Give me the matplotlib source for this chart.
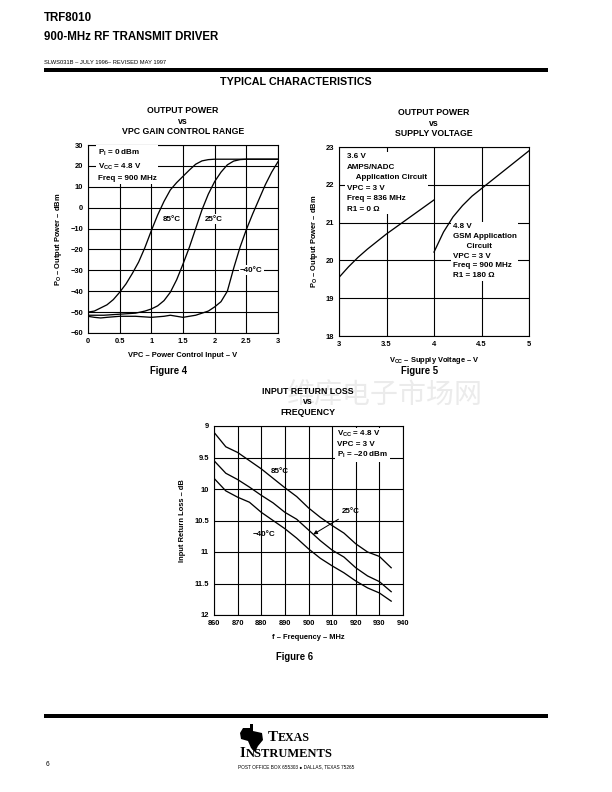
import matplotlib
matplotlib.use("Agg")
import matplotlib.pyplot as plt
from matplotlib.patches import Polygon

plt.rcParams['font.family'] = ['Liberation Sans', 'DejaVu Sans']
plt.rcParams['font.weight'] = 'bold'
plt.rcParams['axes.labelweight'] = 'bold'
plt.rcParams['mathtext.fontset'] = 'custom'
plt.rcParams['mathtext.rm'] = 'Liberation Sans:bold'
plt.rcParams['mathtext.it'] = 'Liberation Sans:bold'
plt.rcParams['mathtext.bf'] = 'Liberation Sans:bold'
plt.rcParams['axes.unicode_minus'] = True

# ---- Figure 4: output power vs VPC ----
vpc_85 = [0, 0.1, 0.2, 0.3, 0.4, 0.5, 0.6, 0.7, 0.8, 0.9, 1.0, 1.1, 1.2, 1.3,
          1.4, 1.5, 1.6, 1.7, 1.8, 1.9, 2.0, 2.5, 3.0]
po_85 = [-50, -49.5, -48, -46.5, -44, -40.5, -36.5, -31.5, -26, -19, -11, -3.5,
         3, 8.5, 12, 15, 18, 20.8, 22.4, 23, 23.2, 23.2, 23.2]
vpc_25 = [0, 0.25, 0.5, 0.75, 0.9, 1.0, 1.1, 1.2, 1.3, 1.4, 1.5, 1.6, 1.7,
          1.8, 1.9, 2.0, 2.1, 2.2, 2.3, 2.4, 2.5, 3.0]
po_25 = [-51.5, -51.5, -51, -50.5, -49.5, -48.5, -47, -44.5, -40.5, -34.5, -27,
         -19, -10, -1, 6.5, 12.5, 17, 20.5, 22.3, 23, 23.2, 23.2]
vpc_m40 = [0, 0.1, 0.2, 0.3, 0.5, 0.75, 1.0, 1.2, 1.3, 1.4, 1.5, 1.6, 1.7, 1.8,
           1.9, 2.0, 2.1, 2.2, 2.3, 2.4, 2.5, 2.6, 2.7, 2.8, 2.9, 3.0]
po_m40 = [-52, -52.5, -52.8, -52.5, -52, -52, -52.5, -52, -51.5, -52, -52.5,
          -52, -51.5, -50.5, -49.5, -47.5, -45, -40, -29, -19, -10.5, -3, 4,
          11, 17, 22]
fig4_xticks = [0, 0.5, 1, 1.5, 2, 2.5, 3]
fig4_xlabels = ['0', '0.5', '1', '1.5', '2', '2.5', '3']
fig4_yticks = [30, 20, 10, 0, -10, -20, -30, -40, -50, -60]

# ---- Figure 5: output power vs supply voltage ----
vcc_36 = [3.0, 3.1, 3.2, 3.3, 3.4, 3.5, 3.6, 3.7, 3.8, 3.9, 4.0]
po_36 = [19.55, 19.83, 20.08, 20.3, 20.5, 20.7, 20.88, 21.06, 21.24, 21.42, 21.6]
vcc_48 = [4.0, 4.1, 4.2, 4.3, 4.4, 4.5, 4.6, 4.7, 4.8, 4.9, 5.0]
po_48 = [20.22, 20.75, 21.15, 21.45, 21.7, 21.9, 22.1, 22.3, 22.5, 22.7, 22.9]
fig5_xticks = [3, 3.5, 4, 4.5, 5]
fig5_xlabels = ['3', '3.5', '4', '4.5', '5']
fig5_yticks = [18, 19, 20, 21, 22, 23]

# ---- Figure 6: input return loss vs frequency ----
freq = [860, 865, 870, 875, 880, 885, 890, 895, 900, 905, 910, 915, 920, 925,
        930, 935]
rl_85 = [9.1, 9.33, 9.42, 9.55, 9.68, 9.83, 9.98, 10.12, 10.3, 10.45, 10.58,
         10.7, 10.87, 11.0, 11.07, 11.25]
rl_25 = [9.55, 9.75, 9.85, 9.97, 10.1, 10.22, 10.37, 10.48, 10.65, 10.82,
         10.97, 11.08, 11.25, 11.38, 11.47, 11.63]
rl_m40 = [9.83, 10.03, 10.13, 10.21, 10.37, 10.5, 10.63, 10.78, 10.95, 11.1,
          11.22, 11.33, 11.46, 11.57, 11.65, 11.78]
fig6_xticks = [860, 870, 880, 890, 900, 910, 920, 930, 940]
fig6_yticks = [9, 9.5, 10, 10.5, 11, 11.5, 12]
fig6_ylabels = ['9', '9.5', '10', '10.5', '11', '11.5', '12']

W, H = 612.0, 792.0
fig = plt.figure(figsize=(W / 72, H / 72), dpi=72)


def box(x0, y0, x1, y1):
    return [x0 / W, 1 - y1 / H, (x1 - x0) / W, (y1 - y0) / H]


def ftext(x, y, s, **kw):
    fig.text(x / W, 1 - y / H, s, **kw)


def style(ax):
    ax.grid(True, color='black', linewidth=1.1)
    ax.set_axisbelow(True)
    ax.tick_params(length=0, labelsize=7.5, pad=5)
    for sp in ax.spines.values():
        sp.set_linewidth(1.1)


white = dict(facecolor='white', edgecolor='none', pad=1.5)
ann = dict(fontsize=8, fontweight='bold', linespacing=1.55)
curve = dict(color='black', lw=1.3, zorder=4)

# Figure 4
ax4 = fig.add_axes(box(88, 145, 278, 333))
ax4.plot(vpc_85, po_85, **curve)
ax4.plot(vpc_25, po_25, **curve)
ax4.plot(vpc_m40, po_m40, **curve)
ax4.set_xlim(0, 3)
ax4.set_ylim(-60, 30)
ax4.set_xticks(fig4_xticks, fig4_xlabels)
ax4.set_yticks(fig4_yticks)
style(ax4)
ax4.text(0.15, 28.5, 'P$_{\\rm I}$ = 0 dBm\nV$_{\\rm CC}$ = 4.8 V\nFreq = 900 MHz',
         va='top', ha='left', bbox=white, zorder=3, **ann)
ax4.text(1.32, -5.5, '85°C', ha='center', va='center', bbox=white, zorder=3, **ann)
ax4.text(1.99, -5.5, '25°C', ha='center', va='center', bbox=white, zorder=3, **ann)
ax4.text(2.58, -30, '−40°C', ha='center', va='center', bbox=white, zorder=3, **ann)
ax4.set_xlabel('VPC – Power Control Input – V', fontsize=7.5, labelpad=7)
ax4.set_ylabel('P$_{\\rm O}$ – Output Power – dBm', fontsize=7.5, labelpad=6)
ftext(183, 121, 'OUTPUT POWER\nvs\nVPC GAIN CONTROL RANGE', ha='center',
      va='center', fontsize=8.8, linespacing=1.2)
ftext(169, 371, 'Figure 4', ha='center', va='center', fontsize=9.5)

# Figure 5
ax5 = fig.add_axes(box(339, 147, 529, 336))
ax5.plot(vcc_36, po_36, **curve)
ax5.plot(vcc_48, po_48, **curve)
ax5.set_xlim(3, 5)
ax5.set_ylim(18, 23)
ax5.set_xticks(fig5_xticks, fig5_xlabels)
ax5.set_yticks(fig5_yticks)
style(ax5)
ax5.text(3.08, 22.83, '3.6 V\nAMPS/NADC\n    Application Circuit\nVPC = 3 V\n'
         'Freq = 836 MHz\nR1 = 0 Ω', va='top', ha='left', bbox=white,
         zorder=3, fontsize=8, linespacing=1.7)
ax5.text(4.2, 20.98, '4.8 V\nGSM Application\n      Circuit\nVPC = 3 V\n'
         'Freq = 900 MHz\nR1 = 180 Ω', va='top', ha='left', bbox=white,
         zorder=3, fontsize=8, linespacing=1.55)
ax5.set_xlabel('V$_{\\rm CC}$ – Supply Voltage – V', fontsize=7.5, labelpad=7)
ax5.set_ylabel('P$_{\\rm O}$ – Output Power – dBm', fontsize=7.5, labelpad=6)
ftext(434, 123, 'OUTPUT POWER\nvs\nSUPPLY VOLTAGE', ha='center',
      va='center', fontsize=8.8, linespacing=1.2)
ftext(420, 371, 'Figure 5', ha='center', va='center', fontsize=9.5)

# Figure 6
ax6 = fig.add_axes(box(214, 426, 403, 615))
ax6.plot(freq, rl_85, **curve)
ax6.plot(freq, rl_25, **curve)
ax6.plot(freq, rl_m40, **curve)
ax6.set_xlim(860, 940)
ax6.set_ylim(12, 9)
ax6.set_xticks(fig6_xticks)
ax6.set_yticks(fig6_yticks, fig6_ylabels)
style(ax6)
ax6.text(912, 9.05, 'V$_{\\rm CC}$ = 4.8 V\nVPC = 3 V\nP$_{\\rm I}$ = –20 dBm',
         va='top', ha='left', bbox=white, zorder=3, fontsize=8, linespacing=1.3)
ax6.text(888, 9.73, '85°C', ha='center', va='center', **ann)
ax6.text(881, 10.72, '−40°C', ha='center', va='center', **ann)
ax6.annotate('25°C', xy=(902, 10.72), xytext=(918, 10.36), ha='center',
             va='center', arrowprops=dict(arrowstyle='-|>', color='black',
                                          lw=1.0, shrinkA=4, shrinkB=0),
             **ann)
ax6.set_xlabel('f – Frequency – MHz', fontsize=7.5, labelpad=7)
ax6.set_ylabel('Input Return Loss – dB', fontsize=7.5, labelpad=8)
ftext(308, 402, 'INPUT RETURN LOSS\nvs\nFREQUENCY', ha='center',
      va='center', fontsize=8.8, linespacing=1.2)
ftext(295, 657, 'Figure 6', ha='center', va='center', fontsize=9.5)

# page decoration
ftext(44, 18, 'TRF8010', fontsize=11.5, va='center')
ftext(44, 37, '900-MHz RF TRANSMIT DRIVER', fontsize=11.5, va='center')
ftext(44, 63, 'SLWS031B – JULY 1996– REVISED MAY 1997', fontsize=5.7,
      fontweight='normal', va='center')
fig.add_artist(plt.Line2D([44 / W, 548 / W], [1 - 69.5 / H, 1 - 69.5 / H],
                          color='black', lw=4, solid_capstyle='butt'))
ftext(296, 82, 'TYPICAL CHARACTERISTICS', fontsize=10.8, ha='center',
      va='center')
ftext(385, 396, '维库电子市场网', fontsize=28, ha='center', va='center',
      color='#ebebeb', fontweight='normal',
      family=['Noto Sans CJK SC', 'DejaVu Sans'], zorder=-5)
fig.add_artist(plt.Line2D([44 / W, 548 / W], [1 - 715.5 / H, 1 - 715.5 / H],
                          color='black', lw=4, solid_capstyle='butt'))
# rough outline of the TI logo
logo_px = [(243, 728), (250, 728), (250, 724), (253, 724), (253, 731),
           (262, 733), (263, 740), (258, 746), (255, 752), (251, 748),
           (248, 741), (241, 739), (240, 733)]
fig.add_artist(Polygon([(x / W, 1 - y / H) for x, y in logo_px],
                       closed=True, facecolor='black', edgecolor='none',
                       transform=fig.transFigure))
serif = dict(family='Liberation Serif', fontweight='bold', ha='left',
             va='baseline')
ftext(268, 741, 'T', fontsize=15, **serif)
ftext(278, 741, 'EXAS', fontsize=12, **serif)
ftext(240, 757, 'I', fontsize=15, **serif)
ftext(246, 757, 'NSTRUMENTS', fontsize=12.5, **serif)
ftext(296, 767, 'POST OFFICE BOX 655303 ● DALLAS, TEXAS 75265', fontsize=4.8,
      fontweight='normal', ha='center', va='center',
      family=['Liberation Sans', 'DejaVu Sans'])
ftext(46, 765, '6', fontsize=6.5, fontweight='normal', va='center')

fig.savefig('out.png', dpi=72)
